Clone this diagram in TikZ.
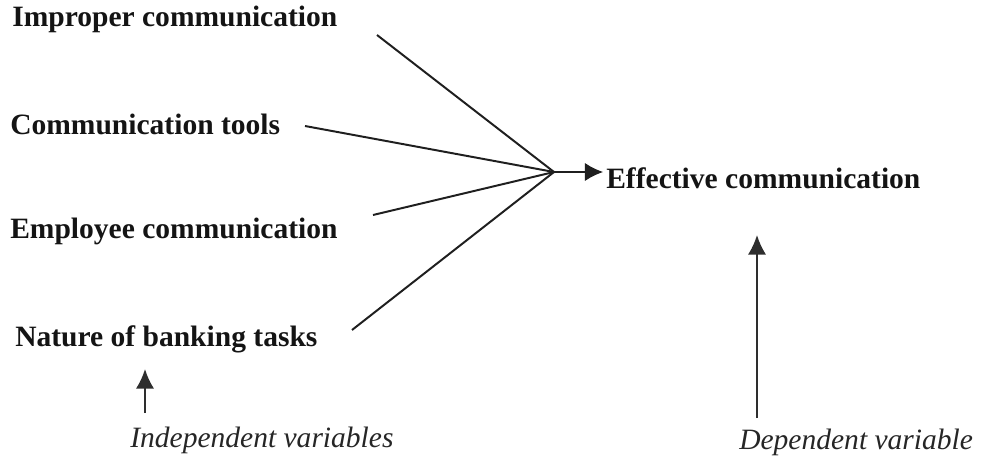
\documentclass[tikz,border=0pt]{standalone}
\usepackage{fontspec}
\setmainfont{Liberation Serif}
\usepackage{tikz}
\usetikzlibrary{calc,positioning,arrows.meta}
\tikzset{
    >={Latex[length=13pt,width=13pt]},
    factor/.style={
        anchor=base west,
        inner sep=0pt,
        text=black!92,
        font={\fontsize{21pt}{25}\selectfont\bfseries},
    },
    note/.style={
        anchor=base west,
        inner sep=0pt,
        text=black!85,
        font={\fontsize{21pt}{25}\selectfont\itshape},
    },
    link/.style={draw=black!88, line width=1.4pt},
    pointer/.style={draw=black!82, line width=1.4pt,
        -{Latex[length=14pt,width=13pt]}},
}
\begin{document}
\begin{tikzpicture}
[
    x=0.025cm, y=-0.025cm,
]
\useasboundingbox (0,0) rectangle (985,459);
% independent variables
\node (improper) at (12,27)  [factor]{Improper communication};
\node (tools)    at (10,135) [factor]{Communication tools};
\node (employee) at (10,238) [factor]{Employee communication};
\node (nature)   at (15,346) [factor]{Nature of banking tasks};
% dependent variable
\node (effective) at (606,189) [factor]{Effective communication};
% captions
\node (indep) at (130,447) [note]{Independent variables};
\node (dep)   at (739,449) [note]{Dependent variable};
% line ends
\coordinate (hub) at (554,172);
\coordinate (s1) at (377,35);
\coordinate (s2) at (305,126);
\coordinate (s3) at (373,215);
\coordinate (s4) at (352,330);
\coordinate (indeptail) at (145,413);
\coordinate (indeptip)  at (145,369);
\coordinate (deptail) at (757,418);
\coordinate (deptip)  at (757,235);
\draw[link] (s1) -- (hub);
\draw[link] (s2) -- (hub);
\draw[link] (s3) -- (hub);
\draw[link] (s4) -- (hub);
\draw[link, ->] (hub) -- ([xshift=-2]effective.west |- hub);
\draw[pointer] (indeptail) -- (indeptip);
\draw[pointer] (deptail) -- (deptip);
\end{tikzpicture}
\end{document}
